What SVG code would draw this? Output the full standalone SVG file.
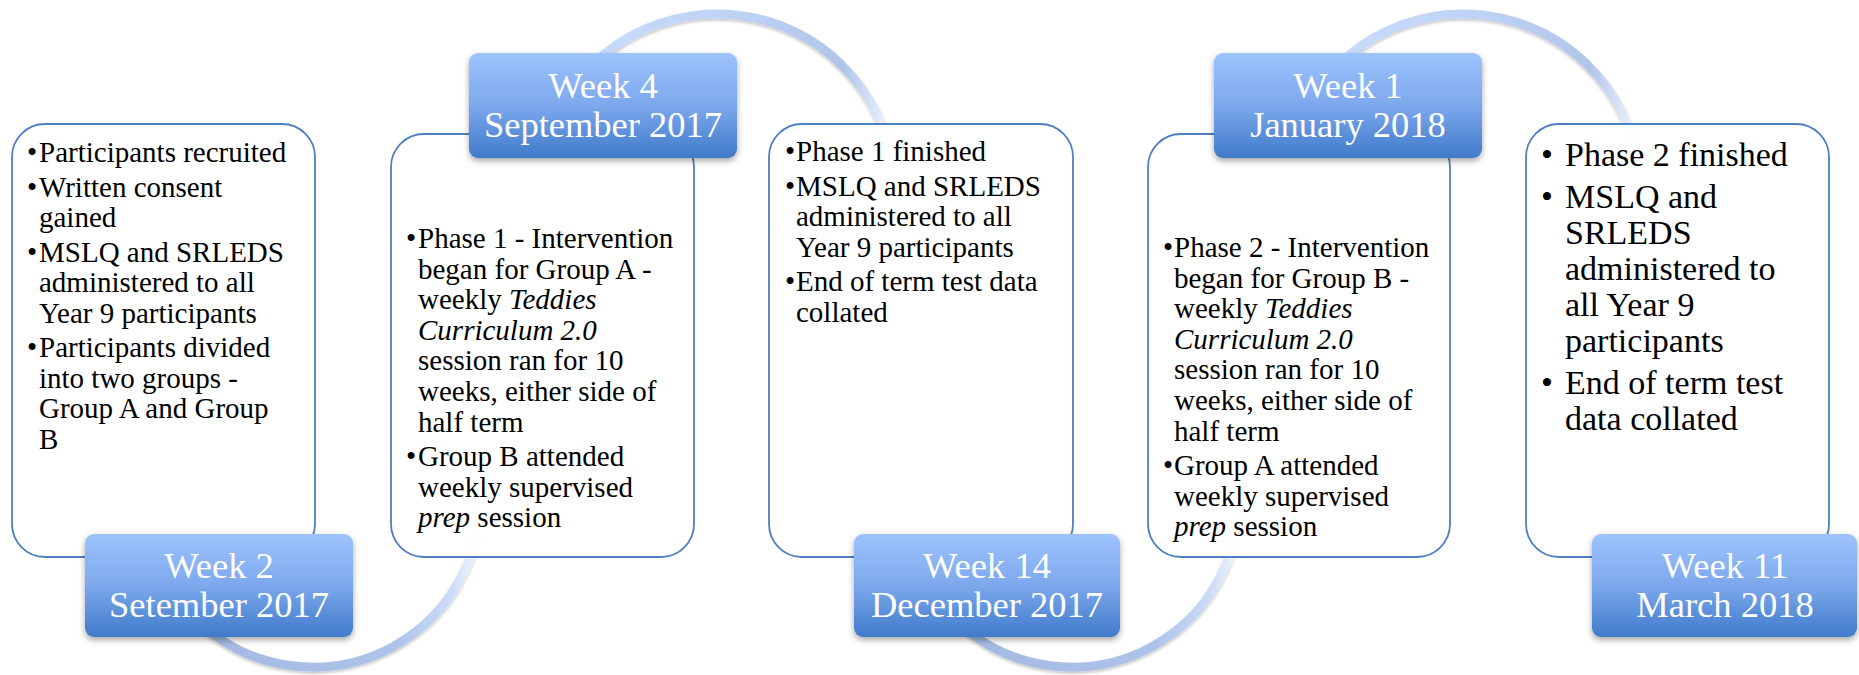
<svg xmlns="http://www.w3.org/2000/svg" width="1859" height="675" viewBox="0 0 1859 675">
<style>
.box{fill:#ffffff;fill-opacity:0.9;stroke:#4f7fc0;stroke-width:1.8}
.lab{fill:url(#labGrad);filter:url(#sh)}
.lt{font-family:"Liberation Serif","Times New Roman",serif;font-size:36.5px;fill:#ffffff;text-anchor:middle}
.bt{font-family:"Liberation Serif","Times New Roman",serif;font-size:29px;fill:#000000}
.bt5{font-family:"Liberation Serif","Times New Roman",serif;font-size:34px;fill:#000000}
.i{font-style:italic}
.arc{fill:none;stroke-width:9;stroke-linecap:butt;filter:url(#ash)}
</style>
<defs>
<linearGradient id="labGrad" x1="0" y1="0" x2="0" y2="1">
<stop offset="0" stop-color="#9ec3fd"/>
<stop offset="0.5" stop-color="#7ca8ec"/>
<stop offset="1" stop-color="#407aca"/>
</linearGradient>
<linearGradient id="gA1" gradientUnits="userSpaceOnUse" x1="200" y1="0" x2="480" y2="0">
<stop offset="0" stop-color="#a3b9e2"/>
<stop offset="0.7" stop-color="#aec3ea"/>
<stop offset="0.9" stop-color="#cddcf6"/>
<stop offset="1" stop-color="#f4f8fe"/>
</linearGradient>
<linearGradient id="gA3" gradientUnits="userSpaceOnUse" x1="959" y1="0" x2="1239" y2="0">
<stop offset="0" stop-color="#a3b9e2"/>
<stop offset="0.7" stop-color="#aec3ea"/>
<stop offset="0.9" stop-color="#cddcf6"/>
<stop offset="1" stop-color="#f4f8fe"/>
</linearGradient>
<linearGradient id="gA2" gradientUnits="userSpaceOnUse" x1="580" y1="0" x2="890" y2="0">
<stop offset="0" stop-color="#c9dcfc"/>
<stop offset="0.5" stop-color="#bed2f5"/>
<stop offset="0.85" stop-color="#b1c5e9"/>
<stop offset="1" stop-color="#eef4fd"/>
</linearGradient>
<linearGradient id="gA4" gradientUnits="userSpaceOnUse" x1="1326" y1="0" x2="1636" y2="0">
<stop offset="0" stop-color="#c9dcfc"/>
<stop offset="0.5" stop-color="#bed2f5"/>
<stop offset="0.85" stop-color="#b1c5e9"/>
<stop offset="1" stop-color="#eef4fd"/>
</linearGradient>
<filter id="sh" x="-10%" y="-10%" width="120%" height="130%">
<feDropShadow dx="0" dy="3" stdDeviation="3" flood-color="#000000" flood-opacity="0.35"/>
</filter>
<filter id="ash" x="-10%" y="-10%" width="120%" height="130%">
<feDropShadow dx="0" dy="2" stdDeviation="1.5" flood-color="#000000" flood-opacity="0.22"/>
</filter>
</defs>

<g id="connectors">
<path class="arc" stroke="url(#gA1)" d="M194.9,618.1 A167,167 0 0 0 476.4,465.3"/>
<path class="arc" stroke="url(#gA2)" d="M580.6,77.6 A178,178 0 0 1 888.9,145.9"/>
<path class="arc" stroke="url(#gA3)" d="M953.9,618.1 A167,167 0 0 0 1235.4,465.3"/>
<path class="arc" stroke="url(#gA4)" d="M1326.6,77.6 A178,178 0 0 1 1634.9,145.9"/>
</g>

<g id="node1">
<rect class="box" x="12" y="124" width="303" height="433" rx="33"/>
<text class="bt">
<tspan x="27" y="162">•</tspan><tspan x="39" y="162">Participants recruited</tspan>
<tspan x="27" y="196.5">•</tspan><tspan x="39" y="196.5">Written consent</tspan>
<tspan x="39" y="227">gained</tspan>
<tspan x="27" y="261.5">•</tspan><tspan x="39" y="261.5">MSLQ and SRLEDS</tspan>
<tspan x="39" y="292">administered to all</tspan>
<tspan x="39" y="323">Year 9 participants</tspan>
<tspan x="27" y="357">•</tspan><tspan x="39" y="357">Participants divided</tspan>
<tspan x="39" y="388">into two groups -</tspan>
<tspan x="39" y="418">Group A and Group</tspan>
<tspan x="39" y="449">B</tspan>
</text>
<rect class="lab" x="85" y="534" width="268" height="103" rx="9"/>
<text class="lt"><tspan x="219" y="577.5">Week 2</tspan><tspan x="219" y="616.5">Setember 2017</tspan></text>
</g>

<g id="node2">
<rect class="box" x="391" y="134" width="303" height="423" rx="33"/>
<text class="bt">
<tspan x="406" y="248">•</tspan><tspan x="418" y="248">Phase 1 - Intervention</tspan>
<tspan x="418" y="278.6">began for Group A -</tspan>
<tspan x="418" y="309.2">weekly <tspan class="i">Teddies</tspan></tspan>
<tspan x="418" y="339.8" class="i">Curriculum 2.0</tspan>
<tspan x="418" y="370.4">session ran for 10</tspan>
<tspan x="418" y="401">weeks, either side of</tspan>
<tspan x="418" y="431.6">half term</tspan>
<tspan x="406" y="466">•</tspan><tspan x="418" y="466">Group B attended</tspan>
<tspan x="418" y="496.6">weekly supervised</tspan>
<tspan x="418" y="527.2"><tspan class="i">prep</tspan> session</tspan>
</text>
<rect class="lab" x="469" y="53" width="268" height="105" rx="9"/>
<text class="lt"><tspan x="603" y="97.5">Week 4</tspan><tspan x="603" y="136.5">September 2017</tspan></text>
</g>

<g id="node3">
<rect class="box" x="769" y="124" width="304" height="433" rx="33"/>
<text class="bt">
<tspan x="785" y="161">•</tspan><tspan x="796" y="161">Phase 1 finished</tspan>
<tspan x="785" y="195.5">•</tspan><tspan x="796" y="195.5">MSLQ and SRLEDS</tspan>
<tspan x="796" y="226.1">administered to all</tspan>
<tspan x="796" y="256.7">Year 9 participants</tspan>
<tspan x="785" y="291.2">•</tspan><tspan x="796" y="291.2">End of term test data</tspan>
<tspan x="796" y="321.8">collated</tspan>
</text>
<rect class="lab" x="854" y="534" width="266" height="103" rx="9"/>
<text class="lt"><tspan x="987" y="577.5">Week 14</tspan><tspan x="987" y="616.5">December 2017</tspan></text>
</g>

<g id="node4">
<rect class="box" x="1148" y="134" width="302" height="423" rx="33"/>
<text class="bt">
<tspan x="1163" y="257">•</tspan><tspan x="1174" y="257">Phase 2 - Intervention</tspan>
<tspan x="1174" y="287.6">began for Group B -</tspan>
<tspan x="1174" y="318.2">weekly <tspan class="i">Teddies</tspan></tspan>
<tspan x="1174" y="348.8" class="i">Curriculum 2.0</tspan>
<tspan x="1174" y="379.4">session ran for 10</tspan>
<tspan x="1174" y="410">weeks, either side of</tspan>
<tspan x="1174" y="440.6">half term</tspan>
<tspan x="1163" y="475.1">•</tspan><tspan x="1174" y="475.1">Group A attended</tspan>
<tspan x="1174" y="505.7">weekly supervised</tspan>
<tspan x="1174" y="536.3"><tspan class="i">prep</tspan> session</tspan>
</text>
<rect class="lab" x="1214" y="53" width="268" height="105" rx="9"/>
<text class="lt"><tspan x="1348" y="97.5">Week 1</tspan><tspan x="1348" y="136.5">January 2018</tspan></text>
</g>

<g id="node5">
<rect class="box" x="1526" y="124" width="303" height="433" rx="33"/>
<text class="bt5">
<tspan x="1541" y="166">•</tspan><tspan x="1565" y="166">Phase 2 finished</tspan>
<tspan x="1541" y="208">•</tspan><tspan x="1565" y="208">MSLQ and</tspan>
<tspan x="1565" y="244">SRLEDS</tspan>
<tspan x="1565" y="280">administered to</tspan>
<tspan x="1565" y="316">all Year 9</tspan>
<tspan x="1565" y="352">participants</tspan>
<tspan x="1541" y="394">•</tspan><tspan x="1565" y="394">End of term test</tspan>
<tspan x="1565" y="430">data collated</tspan>
</text>
<rect class="lab" x="1592" y="534" width="265" height="103" rx="9"/>
<text class="lt"><tspan x="1725" y="577.5">Week 11</tspan><tspan x="1725" y="616.5">March 2018</tspan></text>
</g>
</svg>
